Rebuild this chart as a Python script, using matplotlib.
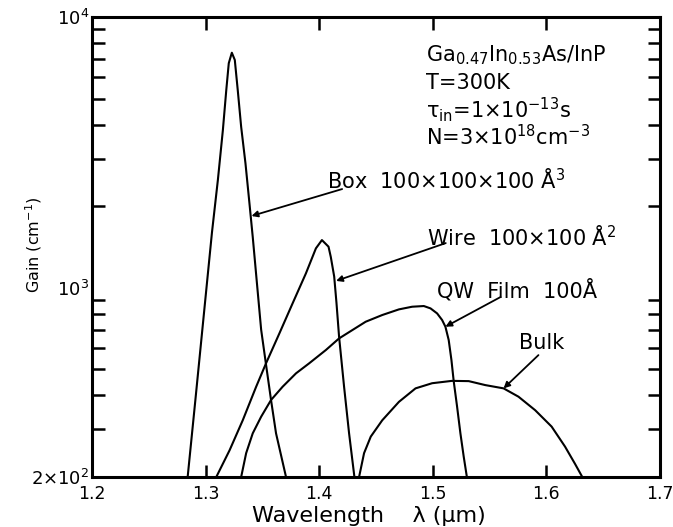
import matplotlib
matplotlib.use("Agg")
import matplotlib.pyplot as plt
from matplotlib.ticker import LogLocator, NullFormatter, FixedLocator

# wavelength (um) / gain (cm^-1)
box_wl = [1.2842, 1.2910, 1.2997, 1.3056, 1.3108, 1.3152, 1.3182, 1.3204,
          1.3231, 1.3257, 1.3283, 1.3313, 1.3351, 1.3386, 1.3415, 1.3450,
          1.3489, 1.3532, 1.3576, 1.3620, 1.3708]
box_gain = [200, 385, 900, 1600, 2500, 3820, 5370, 6750,
            7380, 6940, 5370, 3930, 2880, 2050, 1540, 1060,
            700, 520, 385, 290, 200]

wire_wl = [1.3094, 1.3211, 1.3327, 1.3445, 1.3532, 1.3650, 1.3766, 1.3883,
           1.3971, 1.4024, 1.4082, 1.4102, 1.4132, 1.4152, 1.4175, 1.4219,
           1.4263, 1.4310]
wire_gain = [200, 251, 324, 431, 526, 679, 876, 1130,
             1398, 1500, 1418, 1300, 1100, 880, 659, 431,
             290, 200]

qw_wl = [1.3313, 1.3357, 1.3415, 1.3489, 1.3576, 1.3678, 1.3796, 1.3912,
         1.4059, 1.4175, 1.4409, 1.4555, 1.4702, 1.4818, 1.4921, 1.4980,
         1.5038, 1.5082, 1.5111, 1.5140, 1.5164, 1.5184, 1.5213, 1.5243,
         1.5272, 1.5300]
qw_gain = [200, 245, 290, 334, 385, 431, 483, 526,
           589, 650, 749, 793, 832, 851, 856, 839,
           804, 760, 718, 641, 541, 452, 366, 290,
           238, 200]

bulk_wl = [1.4351, 1.4395, 1.4454, 1.4555, 1.4702, 1.4848, 1.4994, 1.5169,
           1.5316, 1.5462, 1.5623, 1.5754, 1.5901, 1.6046, 1.6164, 1.6251,
           1.6316]
bulk_gain = [200, 245, 282, 324, 379, 425, 444, 453,
             452, 437, 425, 396, 353, 307, 259, 224,
             200]

x_ticks = [1.2, 1.3, 1.4, 1.5, 1.6, 1.7]
y_ticks = [200, 1000, 10000]
y_ticklabels = [r"$2{\times}10^2$", r"$10^3$", r"$10^4$"]

plt.rcParams["font.family"] = ["DejaVu Sans"]
plt.rcParams["mathtext.default"] = "regular"

fig = plt.figure(figsize=(6.73, 5.27), dpi=100)
ax = fig.add_axes([92 / 673, 1 - 477 / 527, 568 / 673, 460 / 527])

for wl, g in [(box_wl, box_gain), (wire_wl, wire_gain),
              (qw_wl, qw_gain), (bulk_wl, bulk_gain)]:
    ax.plot(wl, g, color="black", linewidth=1.5, solid_joinstyle="round")

ax.set_yscale("log")
ax.set_xlim(1.2, 1.7)
ax.set_ylim(200, 10000)

ax.set_xticks(x_ticks)
ax.set_xticklabels([f"{t:.1f}" for t in x_ticks])
ax.yaxis.set_major_locator(FixedLocator(y_ticks))
ax.set_yticklabels(y_ticklabels)
ax.yaxis.set_minor_locator(LogLocator(base=10, subs=range(2, 10)))
ax.yaxis.set_minor_formatter(NullFormatter())

ax.tick_params(axis="both", which="both", direction="in", top=True, right=True,
               width=1.8, labelsize=13)
ax.tick_params(axis="x", which="major", length=9, pad=6, labelsize=12.5)
ax.tick_params(axis="y", which="major", length=0, pad=2)
ax.tick_params(axis="y", which="minor", length=9)
for s in ax.spines.values():
    s.set_linewidth(2.2)

ax.set_xlabel("Wavelength    λ (μm)", fontsize=16, va="center")
ax.xaxis.set_label_coords(0.488, -0.084)
ax.set_ylabel("Gain (cm$^{-1}$)", fontsize=11.5, va="center")
ax.yaxis.set_label_coords(-0.102, 0.504)

# parameter block
info = [r"Ga$_{0.47}$In$_{0.53}$As/InP", "T=300K",
        r"$\tau_{in}$=1×10$^{-13}$s", r"N=3×10$^{18}$cm$^{-3}$"]
for txt, yf in zip(info, [0.917, 0.857, 0.798, 0.739]):
    ax.text(0.588, yf, txt, transform=ax.transAxes, fontsize=15, va="center")

# curve labels with arrows
labels = [
    ("Box  100×100×100 Å$^3$", 0.414, 0.646, (1.4202, 2315), (1.3404, 1841)),
    ("Wire  100×100 Å$^2$", 0.589, 0.522, (1.5114, 1462), (1.4149, 1060)),
    ("QW  Film  100Å", 0.607, 0.407, (1.5596, 924), (1.5111, 718)),
    ("Bulk", 0.751, 0.291, (1.593, 564), (1.5623, 425)),
]
for txt, xf, yf, tail, head in labels:
    ax.text(xf, yf, txt, transform=ax.transAxes, fontsize=15, va="center")
    ax.annotate("", xy=head, xytext=tail,
                arrowprops=dict(arrowstyle="-|>", color="black", lw=1.3,
                                mutation_scale=9, shrinkA=0, shrinkB=0))

fig.savefig("out.png", dpi=100)
